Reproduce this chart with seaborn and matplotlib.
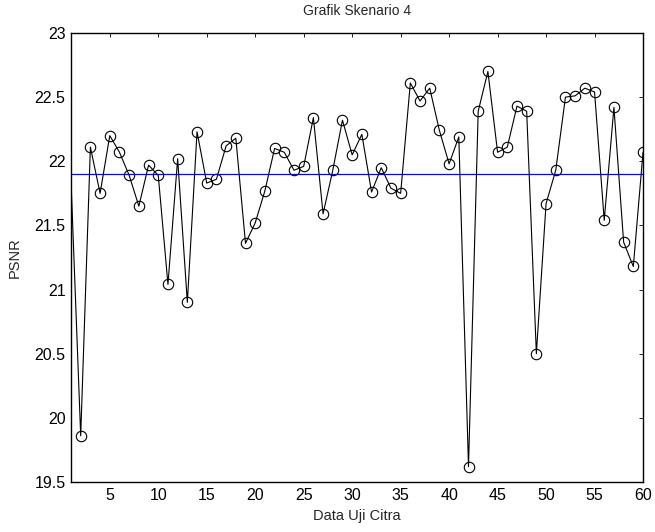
import numpy as np
import pandas as pd
import matplotlib
matplotlib.use("Agg")
import matplotlib.pyplot as plt
import seaborn as sns

# nilai PSNR tiap citra uji
citra = list(range(1, 61))
psnr = [21.85, 19.86, 22.11, 21.75, 22.20, 22.07, 21.89, 21.65, 21.97, 21.89,
        21.04, 22.02, 20.90, 22.23, 21.83, 21.86, 22.12, 22.18, 21.36, 21.52,
        21.77, 22.10, 22.07, 21.93, 21.96, 22.34, 21.59, 21.93, 22.32, 22.05,
        22.21, 21.76, 21.95, 21.79, 21.75, 22.61, 22.47, 22.57, 22.24, 21.98,
        22.19, 19.62, 22.39, 22.70, 22.07, 22.11, 22.43, 22.39, 20.50, 21.67,
        21.93, 22.50, 22.51, 22.57, 22.54, 21.54, 22.42, 21.37, 21.18, 22.07]
rata_rata = 21.90

x_ticks = list(range(5, 61, 5))
y_ticks = [19.5, 20, 20.5, 21, 21.5, 22, 22.5, 23]
y_labels = ["19.5", "20", "20.5", "21", "21.5", "22", "22.5", "23"]

df = pd.DataFrame({"Citra": citra, "PSNR": psnr})

sns.set_theme(style="white")
plt.rcParams["font.family"] = ["Liberation Sans", "DejaVu Sans"]

fig = plt.figure(figsize=(6.55, 5.32), dpi=100)
ax = fig.add_axes([0.1084, 0.094, 0.8733, 0.844])

sns.lineplot(data=df, x="Citra", y="PSNR", ax=ax, color="black", linewidth=0.8,
             marker="o", markersize=7.5, markerfacecolor="none",
             markeredgecolor="black", markeredgewidth=0.8,
             markevery=slice(1, None))
ax.axhline(rata_rata, color="#0000ff", linewidth=0.9)

ax.set_xlim(1, 60)
ax.set_ylim(19.5, 23)
ax.set_xticks(x_ticks)
ax.set_yticks(y_ticks)
ax.set_yticklabels(y_labels)
ax.tick_params(direction="in", length=3, width=0.6, labelsize=11.5,
               top=True, right=True, labeltop=False, labelright=False,
               pad=4, colors="black")
for s in ax.spines.values():
    s.set_color("black")
    s.set_linewidth(1.0)

ax.set_title("Grafik Skenario 4", fontsize=10, pad=13)
ax.set_xlabel("Data Uji Citra", fontsize=10.5, labelpad=5)
ax.set_ylabel("PSNR", fontsize=10.5, labelpad=9)

fig.savefig("out.png", dpi=100)
